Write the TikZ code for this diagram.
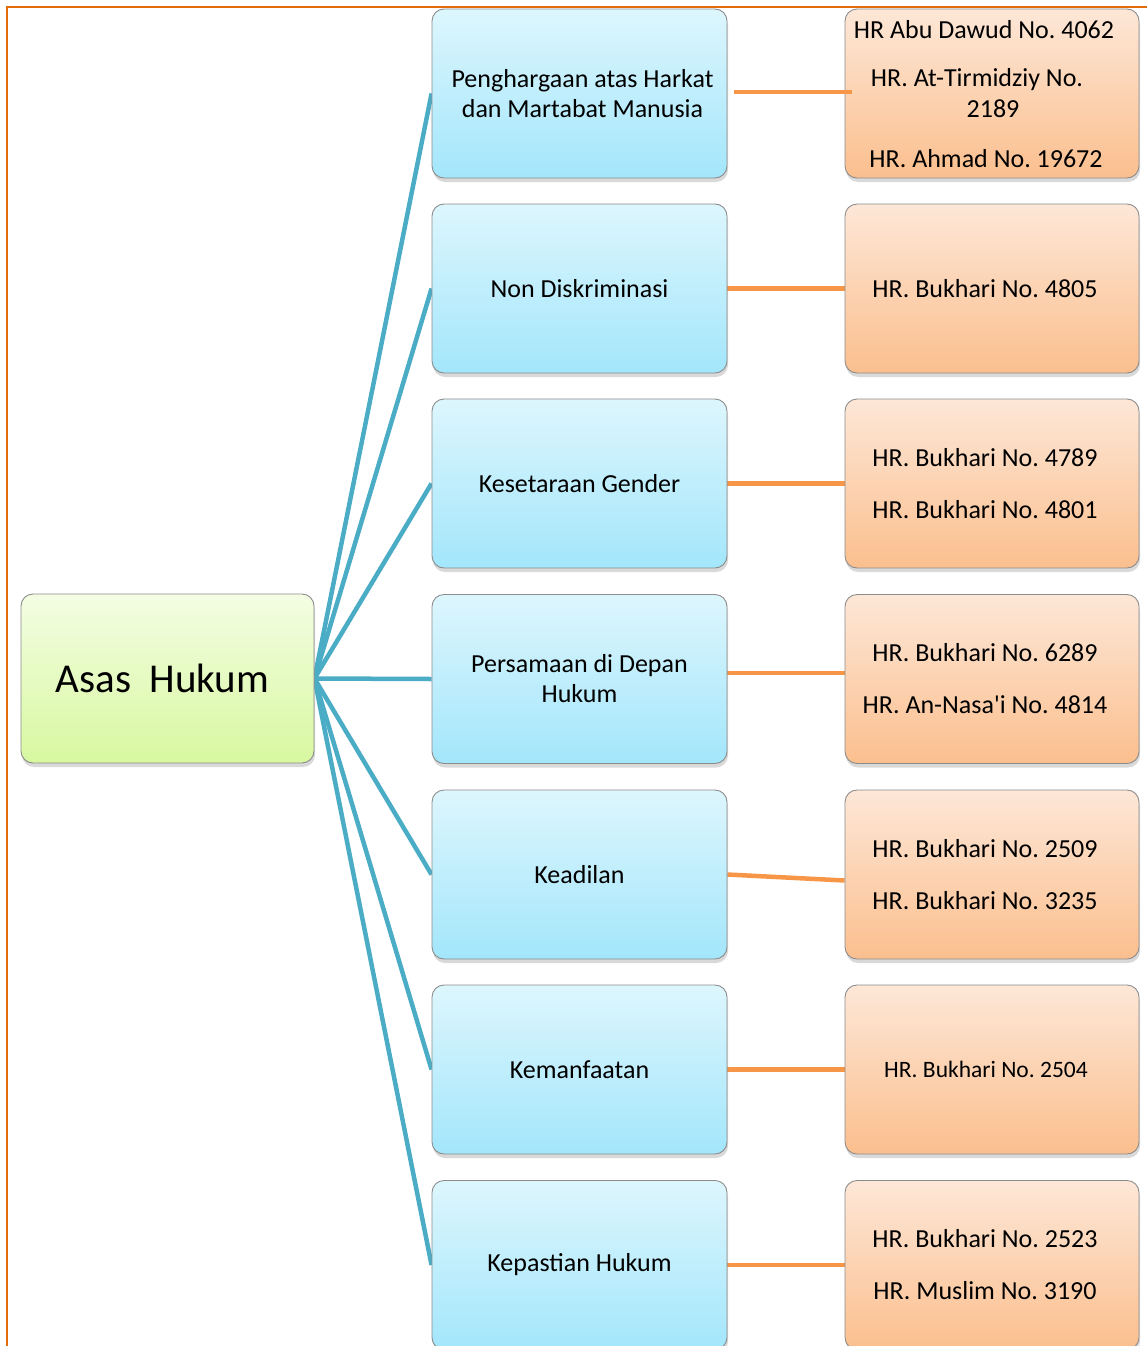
\documentclass[tikz,border=0pt]{standalone}
\usepackage{fontspec}
\setmainfont{Carlito}
\usetikzlibrary{shadows,backgrounds}
\definecolor{bluetop}{HTML}{DDF6FD}
\definecolor{bluebot}{HTML}{A3E6FB}
\definecolor{greentop}{HTML}{F3FDE3}
\definecolor{greenbot}{HTML}{D8F8A0}
\definecolor{orgtop}{HTML}{FDE7D7}
\definecolor{orgbot}{HTML}{FBBF8E}
\definecolor{bline}{HTML}{4BACC6}
\definecolor{oline}{HTML}{F79646}
\definecolor{framecol}{HTML}{E46C0A}
\newcommand{\straightq}{{\addfontfeatures{Ligatures=TeXOff}'}}
\frenchspacing
\begin{document}
\begin{tikzpicture}[x=1pt,y=-1pt,
 box/.style={rounded corners=12pt, draw=black!45, line width=0.9pt,
   minimum width=295pt, minimum height=169pt, inner sep=0pt, align=center,
   font=\fontsize{26}{30}\selectfont,
   drop shadow={shadow xshift=1pt, shadow yshift=-4pt, opacity=0.3}},
 bluebox/.style={box, top color=bluetop, bottom color=bluebot},
 orgbox/.style={box, minimum width=294pt, top color=orgtop, bottom color=orgbot},
 orgtext/.style={label={[font=\fontsize{26}{52}\selectfont, align=center, xshift=-7pt]center:#1}},
 rootbox/.style={box, minimum width=293pt, top color=greentop, bottom color=greenbot,
   font=\fontsize{41}{46}\selectfont},
 bconn/.style={draw=bline, line width=4.5pt},
 oconn/.style={draw=oline, line width=4.5pt},
 reftext/.style={font=\fontsize{26}{30}\selectfont, align=center, inner sep=0pt},
]
\useasboundingbox (0,0) rectangle (1147,1346);
\begin{scope}
\clip (0,0) rectangle (1147,1346);
% frame
\draw[framecol, line width=2pt] (7,1346) -- (7,7.5) -- (1147,7.5);

% root
\node[rootbox] (root) at (167.5,678.5) {\hspace*{-10pt}Asas\ \ Hukum};

% blue boxes
\node[bluebox] (b1) at (579.5,93.5) {\hspace*{6pt}Penghargaan atas Harkat\\\hspace*{6pt}dan Martabat Manusia};
\node[bluebox] (b2) at (579.5,288.5) {Non Diskriminasi};
\node[bluebox] (b3) at (579.5,483.5) {Kesetaraan Gender};
\node[bluebox] (b4) at (579.5,679) {Persamaan di Depan\\Hukum};
\node[bluebox] (b5) at (579.5,874.5) {Keadilan};
\node[bluebox] (b6) at (579.5,1069.5) {Kemanfaatan};
\node[bluebox] (b7) at (579.5,1265) {Kepastian Hukum};

% orange boxes
\node[orgbox] (o1) at (992,93.5) {};
\node[orgbox, orgtext={HR. Bukhari No. 4805}] (o2) at (992,288.5) {};
\node[orgbox, orgtext={HR. Bukhari No. 4789\\HR. Bukhari No. 4801}] (o3) at (992,483.5) {};
\node[orgbox, orgtext={HR. Bukhari No. 6289\\HR. An-Nasa\straightq i No. 4814}] (o4) at (992,679) {};
\node[orgbox, orgtext={HR. Bukhari No. 2509\\HR. Bukhari No. 3235}] (o5) at (992,874.5) {};
\node[orgbox, label={[font=\fontsize{23.5}{28}\selectfont, xshift=-6pt]center:HR. Bukhari No. 2504}] (o6) at (992,1069.5) {};
\node[orgbox, orgtext={HR. Bukhari No. 2523\\HR. Muslim No. 3190}] (o7) at (992,1265) {};

\begin{scope}
\clip (846,10) rectangle (1138,168);
\node[reftext] (o1a) at (984,30) {HR Abu Dawud No. 4062};
\node[reftext] (o1b) at (977,80) {HR. At-Tirmidziy No.};
\node[reftext] (o1d) at (993,109) {2189};
\node[reftext] (o1c) at (986,159) {HR. Ahmad No. 19672};
\end{scope}

% connectors
\begin{scope}[on background layer]
\foreach \i in {1,...,7} {
  \draw[bconn] (root.east) -- (b\i.west);
}
\draw[oconn] (b2.east) -- (o2.west);
\draw[oconn] (b3.east) -- (o3.west);
\draw[oconn] ([yshift=6pt]b4.east) -- ([yshift=6pt]o4.west);
\draw[oconn] (b5.east) -- ([yshift=-6pt]o5.west);
\draw[oconn] (b6.east) -- (o6.west);
\draw[oconn] (b7.east) -- (o7.west);
\end{scope}
\draw[oconn] ([xshift=7pt,yshift=1.5pt]b1.east) -- ([xshift=7pt,yshift=1.5pt]o1.west);
\end{scope}
\end{tikzpicture}
\end{document}
